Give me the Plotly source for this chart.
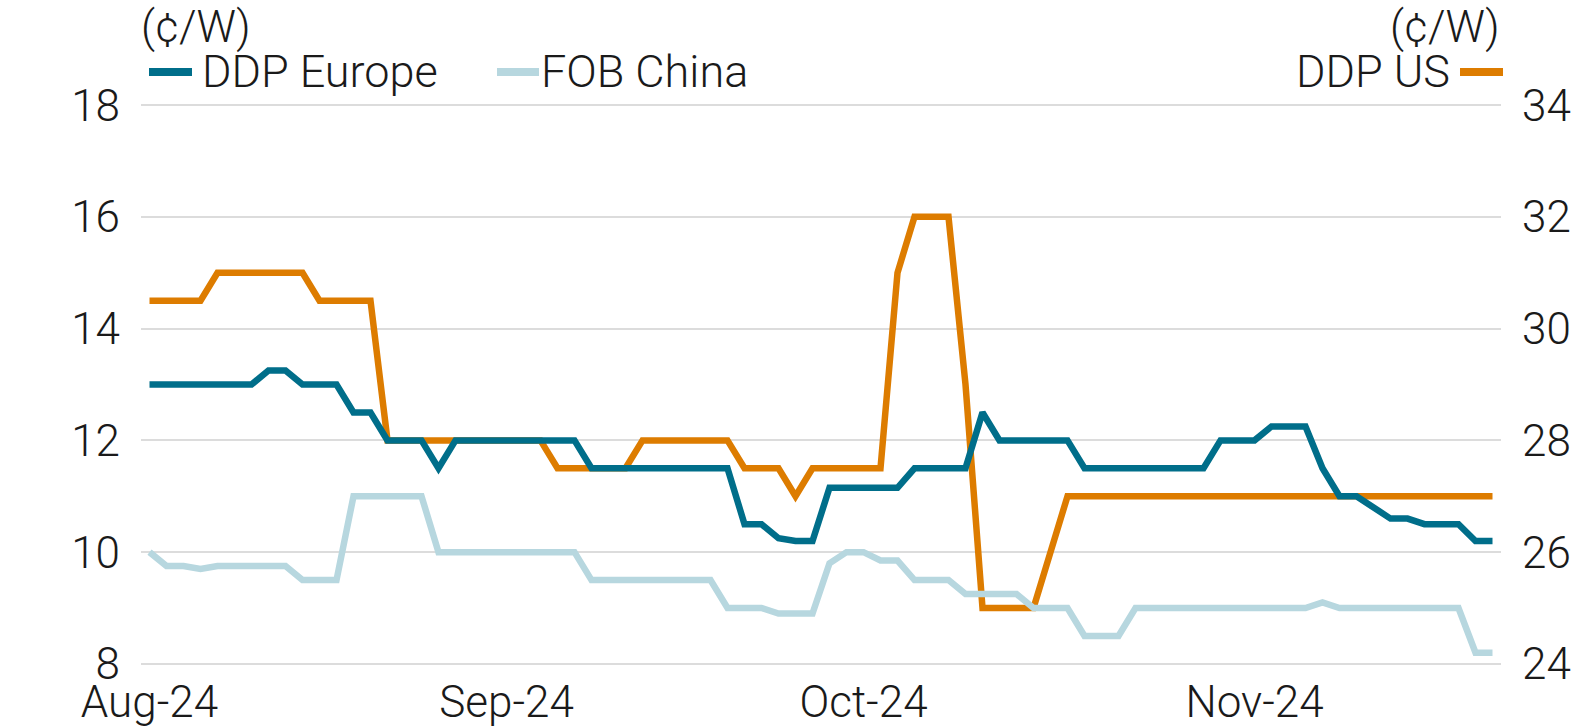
import plotly.graph_objects as go

# ---- data ----
tick_labels = ["Aug-24", "Sep-24", "Oct-24", "Nov-24"]
tick_index = [0, 21, 42, 65]

ddp_us = [30.5, 30.5, 30.5, 30.5,
          31, 31, 31, 31, 31, 31,
          30.5, 30.5, 30.5, 30.5,
          28, 28, 28, 28, 28, 28, 28, 28, 28, 28,
          27.5, 27.5, 27.5, 27.5, 27.5,
          28, 28, 28, 28, 28, 28,
          27.5, 27.5, 27.5,
          27,
          27.5, 27.5, 27.5, 27.5, 27.5,
          31,
          32, 32, 32,
          29,
          25, 25, 25, 25,
          26,
          27, 27, 27, 27, 27, 27, 27, 27, 27, 27, 27, 27, 27,
          27, 27, 27, 27, 27, 27, 27, 27, 27, 27, 27, 27, 27]

ddp_europe = [13, 13, 13, 13, 13, 13, 13,
              13.25, 13.25,
              13, 13, 13,
              12.5, 12.5,
              12, 12, 12,
              11.5,
              12, 12, 12, 12, 12, 12, 12, 12,
              11.5, 11.5, 11.5, 11.5, 11.5, 11.5, 11.5, 11.5, 11.5,
              10.5, 10.5,
              10.25,
              10.2, 10.2,
              11.15, 11.15, 11.15, 11.15, 11.15,
              11.5, 11.5, 11.5, 11.5,
              12.5,
              12, 12, 12, 12, 12,
              11.5, 11.5, 11.5, 11.5, 11.5, 11.5, 11.5, 11.5,
              12, 12, 12,
              12.25, 12.25, 12.25,
              11.5,
              11, 11,
              10.8,
              10.6, 10.6,
              10.5, 10.5, 10.5,
              10.2, 10.2]

fob_china = [10.0,
             9.75, 9.75,
             9.7,
             9.75, 9.75, 9.75, 9.75, 9.75,
             9.5, 9.5, 9.5,
             11, 11, 11, 11, 11,
             10, 10, 10, 10, 10, 10, 10, 10, 10,
             9.5, 9.5, 9.5, 9.5, 9.5, 9.5, 9.5, 9.5,
             9, 9, 9,
             8.9, 8.9, 8.9,
             9.8,
             10, 10,
             9.85, 9.85,
             9.5, 9.5, 9.5,
             9.25, 9.25, 9.25, 9.25,
             9, 9, 9,
             8.5, 8.5, 8.5,
             9, 9, 9, 9, 9, 9, 9, 9, 9, 9, 9,
             9.1,
             9, 9, 9, 9, 9, 9, 9, 9,
             8.2, 8.2]

x = list(range(len(ddp_us)))

C_EU = "#006e8a"
C_CN = "#b7d7df"
C_US = "#dd7c00"
TXT = "#1a1a1a"
FONT = "Roboto"
FS = 44
LW = 6.5

W, H = 1581, 727
ML, MR, MT, MB = 141, 80, 104, 62
PW, PH = W - ML - MR, H - MT - MB
EPS = 0.02  # tiny range padding so edge gridlines are drawn


def px(xp):
    return (xp - ML) / PW


def py(yp):
    return (H - MB - yp) / PH


fig = go.Figure()
fig.add_trace(go.Scatter(x=x, y=ddp_us, name="DDP US", mode="lines",
                         line=dict(color=C_US, width=LW), yaxis="y",
                         showlegend=False))
fig.add_trace(go.Scatter(x=x, y=fob_china, name="FOB China", mode="lines",
                         line=dict(color=C_CN, width=LW), yaxis="y2",
                         showlegend=False))
fig.add_trace(go.Scatter(x=x, y=ddp_europe, name="DDP Europe", mode="lines",
                         line=dict(color=C_EU, width=LW), yaxis="y2",
                         showlegend=False))

fig.update_layout(
    width=W, height=H,
    margin=dict(l=ML, r=MR, t=MT, b=MB, pad=0),
    paper_bgcolor="white", plot_bgcolor="white",
    font=dict(family=FONT, size=FS, color=TXT, weight=300),
    xaxis=dict(range=[-0.5, len(x) - 0.5], tickmode="array",
               tickvals=tick_index, ticktext=tick_labels,
               showgrid=False, zeroline=False, showline=False, ticks="",
               ticklabelstandoff=7, automargin=False),
    yaxis=dict(side="right", range=[24 - EPS, 34 + EPS], dtick=2, tick0=24,
               showgrid=True, gridcolor="#dcdcdc", gridwidth=2,
               zeroline=False, showline=False, ticks="",
               ticklabelstandoff=20, automargin=False),
    yaxis2=dict(side="left", overlaying="y", range=[8 - EPS, 18 + EPS],
                dtick=2, tick0=8,
                showgrid=False, zeroline=False, showline=False, ticks="",
                ticklabelstandoff=20, automargin=False),
    showlegend=False,
)

ann = []
shapes = []
# unit labels
ann.append(dict(text="(¢/W)", x=px(139), y=py(27), xref="paper", yref="paper",
                xanchor="left", yanchor="middle", showarrow=False))
ann.append(dict(text="(¢/W)", x=px(1502), y=py(27), xref="paper", yref="paper",
                xanchor="right", yanchor="middle", showarrow=False))
# legend
LY = 72
ann.append(dict(text="DDP Europe", x=px(200), y=py(LY), xref="paper", yref="paper",
                xanchor="left", yanchor="middle", showarrow=False,
                font=dict(size=FS + 1)))
ann.append(dict(text="FOB China", x=px(539), y=py(LY), xref="paper", yref="paper",
                xanchor="left", yanchor="middle", showarrow=False,
                font=dict(size=FS + 1)))
ann.append(dict(text="DDP US", x=px(1452), y=py(LY), xref="paper", yref="paper",
                xanchor="right", yanchor="middle", showarrow=False,
                font=dict(size=FS + 1)))
for x0, x1, c in [(149, 192, C_EU), (497, 539, C_CN), (1460, 1503, C_US)]:
    shapes.append(dict(type="line", xref="paper", yref="paper",
                       x0=px(x0), x1=px(x1), y0=py(LY), y1=py(LY),
                       line=dict(color=c, width=8)))
fig.update_layout(annotations=ann, shapes=shapes)

fig.write_html("out.html", config={"displayModeBar": False},
               post_script="document.body.style.margin='0';document.body.style.overflow='hidden';")
